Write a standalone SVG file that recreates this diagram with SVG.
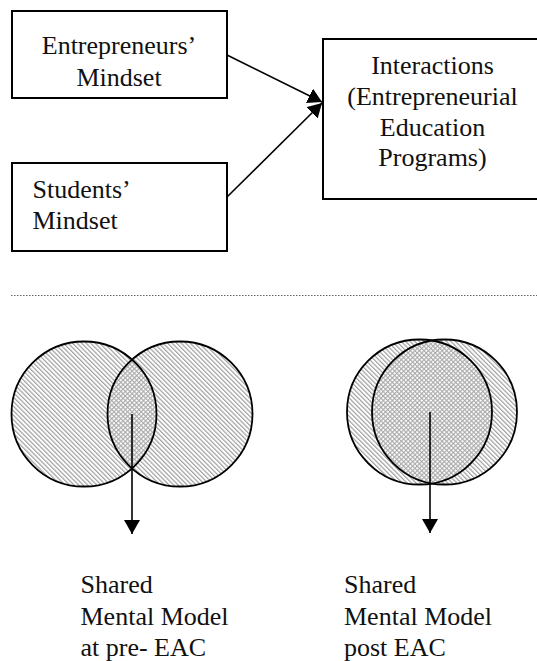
<svg xmlns="http://www.w3.org/2000/svg" width="537" height="661" viewBox="0 0 537 661">
  <style>
    .box { fill: #fff; stroke: #000; stroke-width: 2; }
    .lbl { font-family: "Liberation Serif", "Times New Roman", serif; font-size: 26px; fill: #111; }
    .mid { text-anchor: middle; }
    .conn { stroke: #000; stroke-width: 1.6; fill: none; }
    .ring { fill: none; stroke: #000; stroke-width: 1.8; }
    .sep { stroke: #666; stroke-width: 1.2; stroke-dasharray: 1.5 1.5; }
  </style>
  <defs>
    <marker id="arrow" viewBox="0 0 14 16" refX="14" refY="8" markerWidth="14" markerHeight="16" markerUnits="userSpaceOnUse" orient="auto">
      <path d="M0,0 L14,8 L0,16 z" fill="#000"/>
    </marker>
    <!-- single-direction diagonal hatch for circle bodies -->
    <pattern id="hatch" width="3.2" height="3.2" patternUnits="userSpaceOnUse" patternTransform="rotate(-45)">
      <rect width="3.2" height="3.2" fill="#fff"/>
      <line x1="0.6" y1="0" x2="0.6" y2="3.2" stroke="#a0a0a0" stroke-width="1.2"/>
    </pattern>
    <!-- cross hatch for the shared (overlap) area -->
    <pattern id="cross" width="3.2" height="3.2" patternUnits="userSpaceOnUse" patternTransform="rotate(-45)">
      <rect width="3.2" height="3.2" fill="#fff"/>
      <line x1="0.6" y1="0" x2="0.6" y2="3.2" stroke="#a8a8a8" stroke-width="1.1"/>
      <line x1="0" y1="0.6" x2="3.2" y2="0.6" stroke="#a8a8a8" stroke-width="1.1"/>
    </pattern>
    <clipPath id="clip-pre"><circle cx="84" cy="414" r="72.5"/></clipPath>
    <clipPath id="clip-post"><circle cx="419.5" cy="412" r="72.5"/></clipPath>
  </defs>

  <rect width="537" height="661" fill="#fff"/>

  <g id="box-entrepreneurs">
    <rect class="box" x="12" y="11" width="215" height="87"/>
    <text class="lbl mid" x="119" y="53.5">Entrepreneurs’</text>
    <text class="lbl mid" x="119" y="86">Mindset</text>
  </g>

  <g id="box-students">
    <rect class="box" x="12" y="163" width="215" height="88"/>
    <text class="lbl" x="32.5" y="198">Students’</text>
    <text class="lbl" x="32.5" y="228.5">Mindset</text>
  </g>

  <g id="box-interactions">
    <rect class="box" x="323" y="39" width="230" height="160"/>
    <text class="lbl mid" x="432.5" y="74">Interactions</text>
    <text class="lbl mid" x="432.5" y="104.5">(Entrepreneurial</text>
    <text class="lbl mid" x="432.5" y="135.5">Education</text>
    <text class="lbl mid" x="432.5" y="166">Programs)</text>
  </g>

  <line id="separator" class="sep" x1="11" y1="295.5" x2="537" y2="295.5"/>

  <g id="venn-pre">
    <circle cx="84" cy="414" r="72.5" fill="url(#hatch)"/>
    <circle cx="180" cy="414" r="72.5" fill="url(#hatch)"/>
    <circle cx="180" cy="414" r="72.5" fill="url(#cross)" clip-path="url(#clip-pre)"/>
    <circle class="ring" cx="84" cy="414" r="72.5"/>
    <circle class="ring" cx="180" cy="414" r="72.5"/>
  </g>

  <g id="venn-post">
    <circle cx="419.5" cy="412" r="72.5" fill="url(#hatch)"/>
    <circle cx="444.5" cy="412" r="72.5" fill="url(#hatch)"/>
    <circle cx="444.5" cy="412" r="72.5" fill="url(#cross)" clip-path="url(#clip-post)"/>
    <circle class="ring" cx="419.5" cy="412" r="72.5"/>
    <circle class="ring" cx="444.5" cy="412" r="72.5"/>
  </g>

  <g id="connectors">
    <line class="conn" x1="227" y1="55" x2="322" y2="102" marker-end="url(#arrow)"/>
    <line class="conn" x1="227" y1="197" x2="322" y2="103" marker-end="url(#arrow)"/>
    <line class="conn" x1="132" y1="414" x2="132" y2="534" marker-end="url(#arrow)"/>
    <line class="conn" x1="430" y1="412" x2="430" y2="533" marker-end="url(#arrow)"/>
  </g>

  <g id="label-pre">
    <text class="lbl" x="80.5" y="592.5">Shared</text>
    <text class="lbl" x="80.5" y="624.5">Mental Model</text>
    <text class="lbl" x="80.5" y="656">at pre- EAC</text>
  </g>

  <g id="label-post">
    <text class="lbl" x="344" y="592.5">Shared</text>
    <text class="lbl" x="344" y="624.5">Mental Model</text>
    <text class="lbl" x="344" y="656">post EAC</text>
  </g>
</svg>
